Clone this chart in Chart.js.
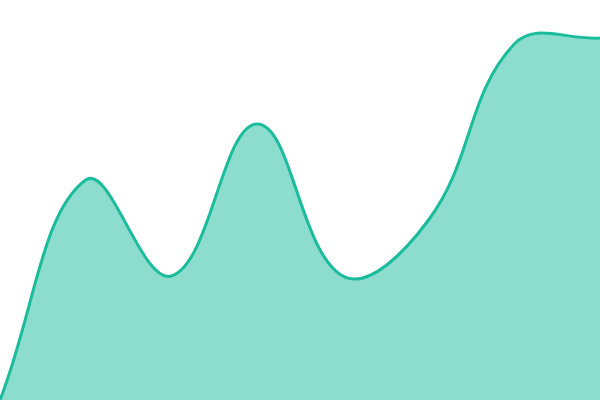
<!DOCTYPE html>
<html>
<head>
<meta charset="utf-8">
<script src="https://cdn.jsdelivr.net/npm/chart.js@4"></script>
<style>
  html, body { margin: 0; padding: 0; background: #fff; }
  #wrap { width: 600px; height: 400px; }
</style>
</head>
<body>
<div id="wrap"><canvas id="chart"></canvas></div>
<script>
const labels = ['1', '2', '3', '4', '5', '6', '7', '8'];
const values = [0, 55, 31, 69, 31, 45, 89, 90.5];

const ctx = document.getElementById('chart').getContext('2d');
new Chart(ctx, {
    type: 'line',
    data: {
        labels: labels,
        datasets: [{
            data: values,
            fill: 'origin',
            backgroundColor: 'rgba(26, 188, 156, 0.5)',
            borderColor: '#1abc9c',
            borderWidth: 3,
            tension: 0.4,
            pointRadius: 0
        }]
    },
    options: {
        responsive: true,
        maintainAspectRatio: false,
        animation: false,
        layout: { padding: 0 },
        plugins: { legend: { display: false }, tooltip: { enabled: false } },
        scales: {
            x: { display: false },
            y: { display: false, min: 0, max: 100 }
        }
    }
});
</script>
</body>
</html>
